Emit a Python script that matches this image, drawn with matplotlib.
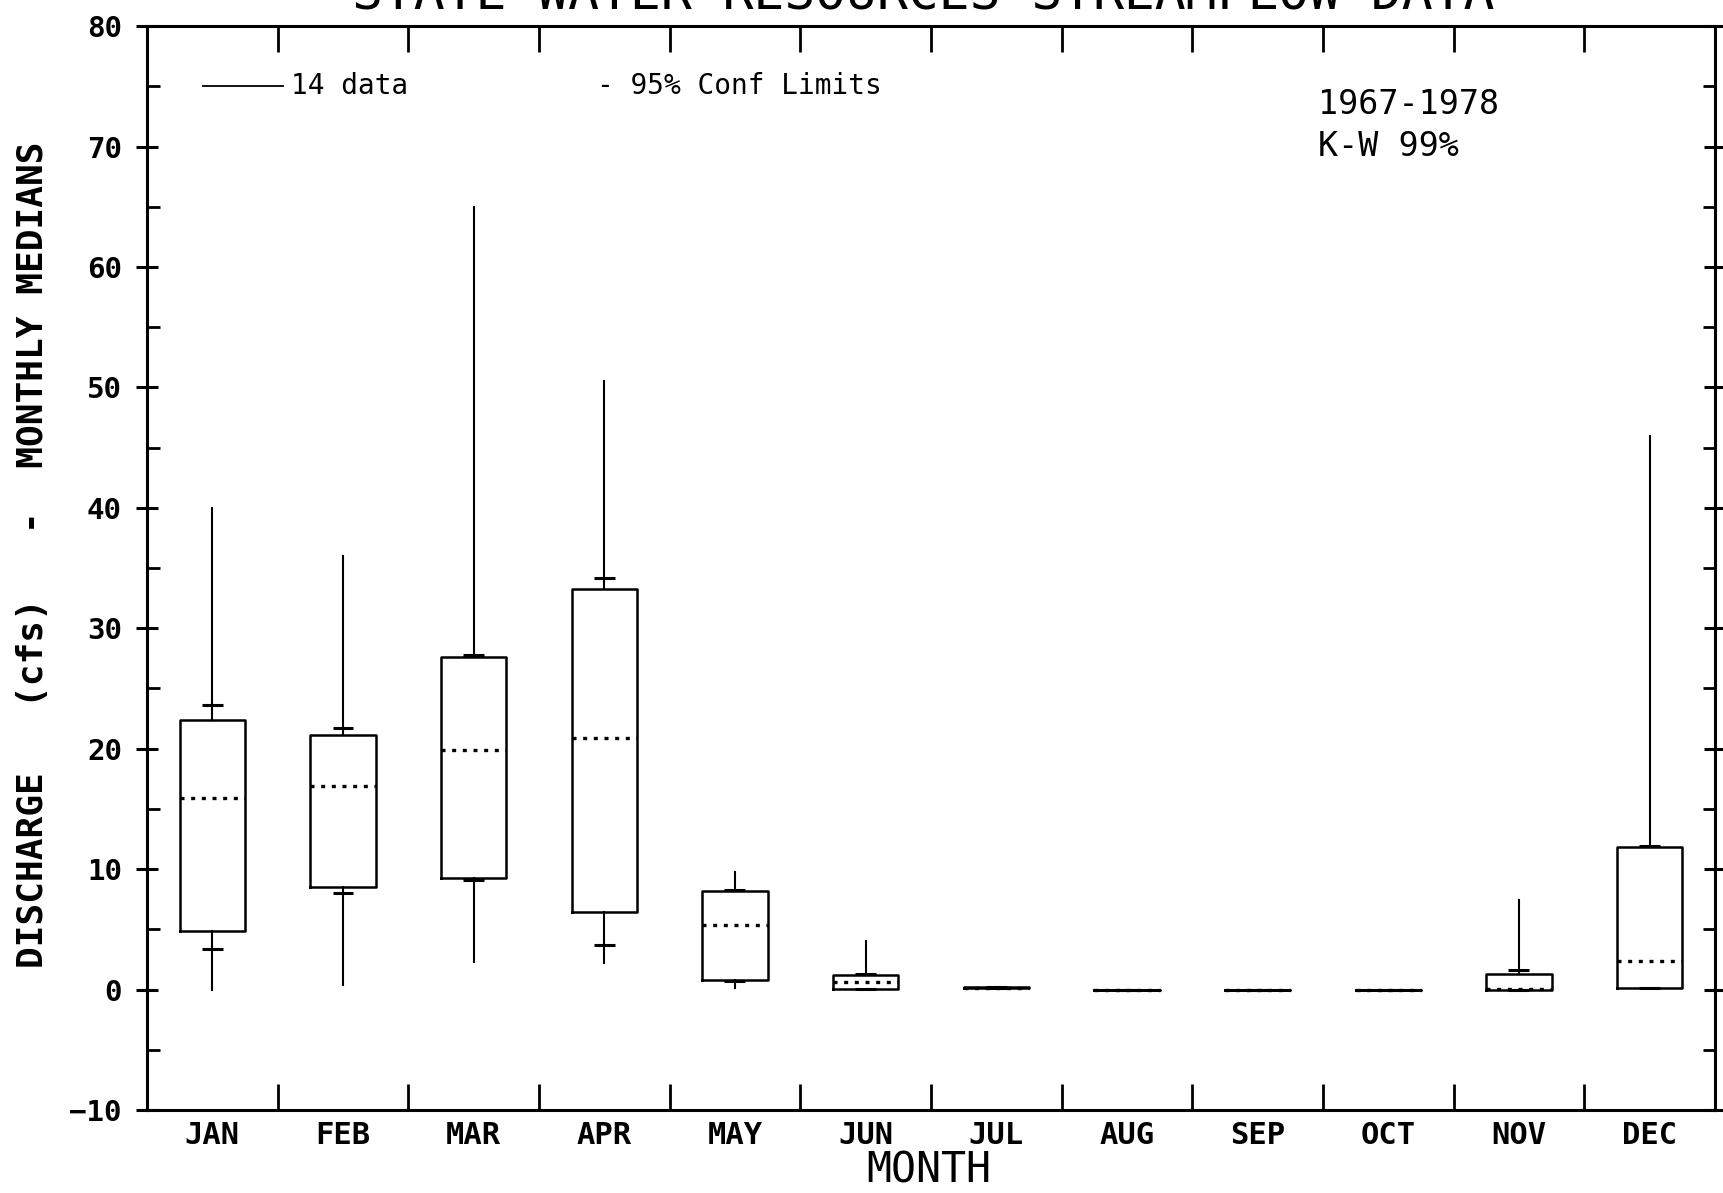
import numpy as np
import matplotlib
matplotlib.use("Agg")
import matplotlib.pyplot as plt

# Datos (cfs)
months = ['JAN', 'FEB', 'MAR', 'APR', 'MAY', 'JUN', 'JUL', 'AUG', 'SEP', 'OCT', 'NOV', 'DEC']
whisk_lo = [0.0, 0.4, 2.3, 2.2, 0.1, 0.05, 0.1, 0.0, 0.0, 0.0, 0.0, 0.1]
q1 = [4.9, 8.5, 9.3, 6.4, 0.8, 0.05, 0.1, 0.0, 0.0, 0.0, 0.0, 0.1]
med = [15.9, 16.9, 19.9, 20.9, 5.4, 0.6, 0.15, 0.0, 0.0, 0.0, 0.05, 2.4]
q3 = [22.4, 21.1, 27.6, 33.3, 8.2, 1.2, 0.22, 0.0, 0.0, 0.0, 1.3, 11.8]
whisk_hi = [40.0, 36.0, 65.0, 50.5, 9.8, 4.0, 0.25, 0.0, 0.0, 0.0, 7.4, 46.0]
conf_lo = [3.4, 8.0, 9.1, 3.7, 0.7, 0.05, 0.1, 0.0, 0.0, 0.0, 0.0, 0.1]
conf_hi = [23.6, 21.7, 27.8, 34.2, 8.3, 1.3, 0.25, 0.0, 0.0, 0.0, 1.6, 11.9]

mono = 'DejaVu Sans Mono'
plt.rcParams['font.family'] = mono

fig = plt.figure(figsize=(17.23, 11.93), dpi=100)
ax = fig.add_axes([0.0853, 0.0696, 0.910, 0.9085])

pos = np.arange(len(months))
stats = []
for i in range(len(months)):
    stats.append(dict(whislo=whisk_lo[i], q1=q1[i], med=med[i], q3=q3[i],
                      whishi=whisk_hi[i], fliers=[]))

ax.bxp(stats, positions=pos, widths=0.5, showcaps=False, showfliers=False,
       boxprops=dict(color='black', linewidth=1.8),
       whiskerprops=dict(color='black', linewidth=1.5),
       medianprops=dict(color='black', linewidth=2.4, linestyle=(0, (1.2, 2.0))))

# limites de confianza 95%
ax.hlines(conf_lo, pos - 0.08, pos + 0.08, color='black', linewidth=2.2)
ax.hlines(conf_hi, pos - 0.08, pos + 0.08, color='black', linewidth=2.2)

ax.set_xlim(-0.5, 11.5)
ax.set_ylim(-10, 80)

# ticks en los limites de mes, etiquetas en el centro
ax.set_xticks(np.arange(-0.5, 12, 1.0))
ax.set_xticklabels([])
ax.set_xticks(pos, months, minor=True)
ax.tick_params(axis='x', which='major', direction='in', length=19, width=2,
               top=True, bottom=True)
ax.tick_params(axis='x', which='minor', length=0, pad=8, labelsize=22)
for lab in ax.get_xticklabels(minor=True):
    lab.set_fontweight('bold')

ax.set_yticks(np.arange(-10, 81, 10))
ax.set_yticks(np.arange(-5, 80, 10), minor=True)
ax.tick_params(axis='y', which='major', direction='inout', length=16, width=2.2,
               left=True, right=True, labelsize=21, pad=10)
ax.tick_params(axis='y', which='minor', direction='in', length=9, width=2,
               left=True, right=True)
for lab in ax.get_yticklabels():
    lab.set_fontweight('bold')

for s in ax.spines.values():
    s.set_linewidth(2.2)

# leyenda y anotaciones
ax.plot([0.036, 0.087], [0.945, 0.945], color='black', linewidth=1.3,
        transform=ax.transAxes)
ax.text(0.092, 0.945, '14 data', transform=ax.transAxes, va='center', fontsize=20)
ax.text(0.287, 0.945, '- 95% Conf Limits', transform=ax.transAxes, va='center', fontsize=20)
ax.text(0.747, 0.928, '1967-1978', transform=ax.transAxes, va='center', fontsize=24)
ax.text(0.747, 0.889, 'K-W 99%', transform=ax.transAxes, va='center', fontsize=24)

fig.text(0.536, 0.992, 'STATE WATER RESOURCES STREAMFLOW DATA', ha='center',
         va='baseline', fontsize=37)
fig.text(0.539, 0.019, 'MONTH', ha='center', va='center', fontsize=30)
fig.text(0.019, 0.535, 'DISCHARGE   (cfs)   -  MONTHLY MEDIANS', rotation=90,
         ha='center', va='center', fontsize=26, fontweight='bold')

fig.savefig('out.png', dpi=100)
